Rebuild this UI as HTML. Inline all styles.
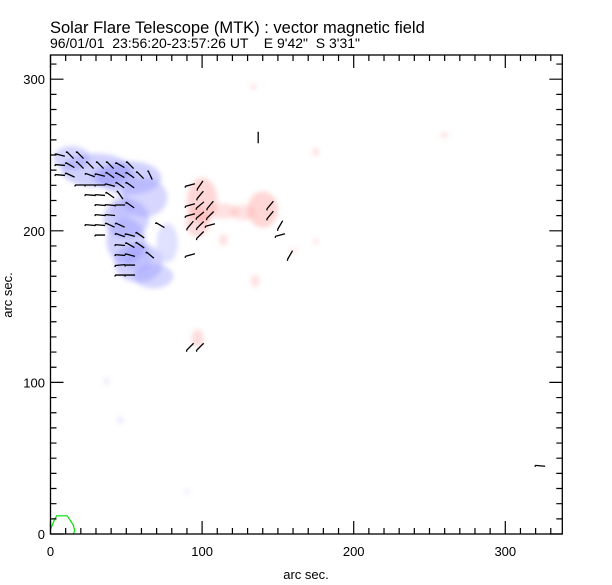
<!DOCTYPE html>
<html><head><meta charset="utf-8">
<style>
html,body{margin:0;padding:0;background:#fff;}
svg{display:block;font-family:"Liberation Sans",sans-serif;}
</style></head>
<body>
<svg id="chart" width="612" height="585" viewBox="0 0 612 585" xmlns="http://www.w3.org/2000/svg">
<defs>
<filter id="blur" x="-30%" y="-30%" width="160%" height="160%"><feGaussianBlur stdDeviation="2.5"/></filter>
<clipPath id="clip"><rect x="50.5" y="55" width="512" height="479"/></clipPath>
</defs>
<text x="50" y="33" font-size="16.5">Solar Flare Telescope (MTK) : vector magnetic field</text>
<text x="50" y="48" font-size="14" xml:space="preserve">96/01/01  23:56:20-23:57:26 UT    E 9'42"  S 3'31"</text>
<g id="blobs" clip-path="url(#clip)" filter="url(#blur)"></g>
<g id="arrows" clip-path="url(#clip)"></g>
<g id="contour" clip-path="url(#clip)"></g>
<g id="axes"></g>
<text x="306" y="579" font-size="13" text-anchor="middle">arc sec.</text>
<text x="12" y="295" font-size="13" text-anchor="middle" transform="rotate(-90 12 295)">arc sec.</text>
</svg>
<script>
// axis ranges (arc sec)
const xTicks = [0, 100, 200, 300];
const yTicks = [0, 100, 200, 300];
const xTickLabels = ["0", "100", "200", "300"];
const yTickLabels = ["0", "100", "200", "300"];
// field patches: [x, y, rx, ry, opacity]
const bluePatches = [
  [14,248,12,8,0.4],[30,240,23,11,0.45],[52,235,21,11,0.45],[62,222,15,13,0.4],
  [50,208,15,13,0.45],[50,193,13,15,0.45],[58,179,16,13,0.45],[68,170,13,8,0.4],
  [77,192,7,13,0.3],[42,236,15,7,0.35],[58,182,9,9,0.3],[47,215,7,9,0.25],
  [46,75,2,2,0.25],[37,101,1.5,3,0.2],[90,28,2,1.5,0.2]
];
const redPatches = [
  [100,220,10,15,0.4],[97,206,8,10,0.35],[114,213,10,5,0.3],[140,214,10,12,0.4],
  [127,212,8,5,0.3],[114,194,3,4,0.3],[135,167,3,4,0.3],[97,129,4,6,0.35],
  [134,295,2,2,0.3],[175,252,2,3,0.3],[160,187,3,1.5,0.25],[175,193,2,2,0.25],
  [260,263,3,1.5,0.3]
];
// vector arrows: [x, y, angle deg]
const arrows = [
  [6.3,250,-15],[12.9,250,-45],[19.5,250,-45],
  [6.3,243.4,-5],[12.9,243.4,-30],[19.5,243.4,-45],[26.1,243.4,-45],[32.7,243.4,-45],[39.3,243.4,-45],[45.9,243.4,-30],[52.5,243.4,-45],
  [6.3,236.8,-5],[12.9,236.8,-25],[26.1,236.8,-20],[32.7,236.8,-15],[39.3,236.8,-35],[45.9,236.8,-30],[52.5,236.8,-35],[59.1,236.8,-45],[65.7,236.8,-65],
  [19.5,230.2,0],[26.1,230.2,0],[32.7,230.2,0],[39.3,230.2,-15],[45.9,230.2,-35],[52.5,230.2,-35],[92.1,230.2,15],[98.7,230.2,55],
  [26.1,223.6,-5],[32.7,223.6,-5],[39.3,223.6,-35],[45.9,223.6,-55],[98.7,223.6,50],
  [32.7,217,-5],[39.3,217,-5],[45.9,217,0],[52.5,217,-35],[92.1,217,15],[98.7,217,40],[105.3,217,50],[144.9,217,50],
  [32.7,210.4,-5],[39.3,210.4,-5],[92.1,210.4,15],[98.7,210.4,40],[105.3,210.4,45],[144.9,210.4,50],
  [26.1,203.8,-5],[32.7,203.8,-5],[39.3,203.8,-25],[45.9,203.8,-25],[72.3,203.8,-30],[92.1,203.8,50],[98.7,203.8,45],[105.3,203.8,15],[151.5,203.8,60],
  [32.7,197.2,0],[45.9,197.2,-20],[52.5,197.2,-15],[59.1,197.2,-35],[98.7,197.2,45],[151.5,197.2,15],
  [45.9,190.6,-5],[52.5,190.6,-30],[59.1,190.6,-35],
  [45.9,184,-5],[52.5,184,-15],[65.7,184,-40],[92.1,184,15],[158,184,60],
  [45.9,177.4,5],[52.5,177.4,0],
  [45.9,170.8,0],[52.5,170.8,0],
  [92.1,123.5,45],[98.7,123.5,45],[137,262,90],[323,45,-5]
];
// green contour near origin: [x, y]
const contourPts = [[0,3],[2,8],[4,12],[11,12],[15,6],[16,2],[15,0]];

const X0=50.5, Y0=534, S=1.516;
const xs = v => X0 + v*S;
const ys = v => Y0 - v*S;
const NS="http://www.w3.org/2000/svg";
function mk(tag, attrs, parent){const e=document.createElementNS(NS,tag);for(const k in attrs)e.setAttribute(k,attrs[k]);parent.appendChild(e);return e;}

const gb=document.getElementById('blobs');
bluePatches.forEach(p=>{
  const e=mk('ellipse',{cx:xs(p[0]),cy:ys(p[1]),rx:p[2]*S,ry:p[3]*S,fill:'#9898ff','fill-opacity':p[4]},gb);
  
  
});
redPatches.forEach(p=>{
  const e=mk('ellipse',{cx:xs(p[0]),cy:ys(p[1]),rx:p[2]*S,ry:p[3]*S,fill:'#ff9a9a','fill-opacity':p[4]},gb);
  
  
});
const ga=document.getElementById('arrows');
arrows.forEach(a=>{
  const cx=xs(a[0]), cy=ys(a[1]), L=5, r=a[2]*Math.PI/180;
  const dx=Math.cos(r)*L, dy=-Math.sin(r)*L;
  const e=mk('path',{d:`M${cx-dx},${cy-dy}L${cx+dx},${cy+dy}M${cx-dx},${cy-dy}l0,1.5`,stroke:'#000','stroke-width':1.3,fill:'none'},ga);
  
  
});
const gc=document.getElementById('contour');
const cp=mk('polyline',{points:contourPts.map(p=>xs(p[0])+','+ys(p[1])).join(' '),stroke:'#00e000','stroke-width':1.2,fill:'none'},gc);



const ax=document.getElementById('axes');
const xmax=(562.3-X0)/S, ymax=(Y0-55)/S;
const frame=mk('rect',{x:X0,y:55,width:562.3-X0,height:Y0-55,fill:'none',stroke:'#000','stroke-width':1.3},ax);


let d='';
for(let v=0; v<=xmax; v+=10){const L=(v%100===0)?13:6;const x=xs(v);d+=`M${x},${Y0}v${-L}M${x},55v${L}`;}
for(let v=0; v<=ymax; v+=10){const L=(v%100===0)?13:6;const y=ys(v);d+=`M${X0},${y}h${L}M562.3,${y}h${-L}`;}
const tk=mk('path',{d:d,stroke:'#000','stroke-width':1.2,fill:'none'},ax);


xTicks.forEach((v,i)=>{
  const t=mk('text',{x:xs(v),y:556,'font-size':13,'text-anchor':'middle'},ax);
  t.textContent=xTickLabels[i];
  
  
});
yTicks.forEach((v,i)=>{
  const t=mk('text',{x:45,y:ys(v)+5,'font-size':13,'text-anchor':'end'},ax);
  t.textContent=yTickLabels[i];
  
  
});
</script>
</body></html>
